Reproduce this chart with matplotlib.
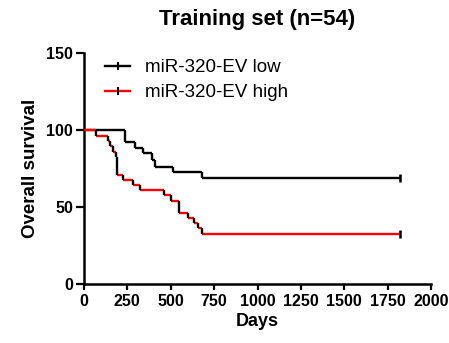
import matplotlib
matplotlib.use("Agg")
import matplotlib.pyplot as plt
from matplotlib.lines import Line2D

plt.rcParams['font.family'] = ['Liberation Sans', 'DejaVu Sans']
plt.rcParams['font.weight'] = 'bold'

title = "Training set (n=54)"
series_names = ["miR-320-EV low", "miR-320-EV high"]
x_ticks = [0, 250, 500, 750, 1000, 1250, 1500, 1750, 2000]
y_ticks = [0, 50, 100, 150]

# event days and survival (%) after each event
low_days = [236, 294, 342, 390, 409, 515, 682]
low_surv = [92.3, 88.4, 84.8, 80.5, 76.1, 72.5, 69.0]
high_days = [70, 138, 150, 169, 184, 193, 222, 284, 323, 461, 499, 549, 601, 634, 659, 680]
high_surv = [96.2, 93.0, 89.5, 85.8, 82.6, 70.7, 67.5, 64.3, 61.0, 57.8, 53.9, 46.0, 42.7, 39.5, 36.2, 32.4]
last_followup = 1820

W, H = 449, 343
fig = plt.figure(figsize=(W / 100, H / 100), dpi=100)
ax = fig.add_axes([84 / W, 1 - 284.3 / H, (431 - 84) / W, (284.3 - 52.7) / H])

lw = 1.7


def km_curve(days, surv, hcolor):
    xs = [0] + list(days)
    ys = [100.0] + list(surv)
    ends = list(days) + [last_followup]
    ax.hlines(ys, xs, ends, colors=hcolor, lw=lw, zorder=3)
    ax.vlines(days, surv, ys[:-1], colors='black', lw=lw, zorder=3)
    ax.plot([last_followup], [ys[-1]], marker='|', ms=6, mew=1.8,
            color='black', zorder=4)


km_curve(low_days, low_surv, 'black')
km_curve(high_days, high_surv, '#ff0000')

ax.set_xlim(0, 2000)
ax.set_ylim(0, 150)
ax.set_xticks(x_ticks)
ax.set_yticks(y_ticks)
ax.tick_params(axis='x', length=4, width=1.6, labelsize=11.5, pad=3)
ax.tick_params(axis='y', length=6, width=1.6, labelsize=11.5, pad=2)
for s in ['top', 'right']:
    ax.spines[s].set_visible(False)
for s in ['left', 'bottom']:
    ax.spines[s].set_linewidth(1.8)

ax.set_xlabel("Days", fontsize=13, fontweight='bold', labelpad=3)
ax.set_ylabel("Overall survival", fontsize=13.5, fontweight='bold', labelpad=5)
fig.text(257 / W, 1 - 19 / H, title, ha='center', va='center',
         fontsize=16, fontweight='bold')

handles = [
    Line2D([], [], color='black', lw=lw, marker='|', ms=6, mew=1.5, mec='black'),
    Line2D([], [], color='#ff0000', lw=lw, marker='|', ms=6, mew=1.5, mec='black'),
]
leg = ax.legend(handles, series_names, loc='upper left',
                bbox_to_anchor=(96 / W, 1 - 50 / H), bbox_transform=fig.transFigure,
                frameon=False, handlelength=1.3, handletextpad=0.8,
                labelspacing=0.4, borderpad=0, numpoints=1,
                prop={'size': 13.5, 'weight': 'normal'})

fig.savefig("out.png", dpi=100)
